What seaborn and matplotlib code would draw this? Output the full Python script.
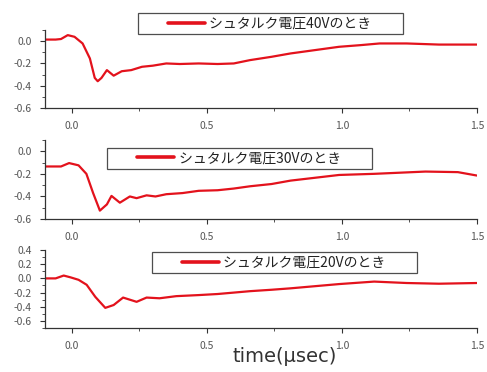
import numpy as np
import pandas as pd
import matplotlib
matplotlib.use("Agg")
import matplotlib.pyplot as plt
from matplotlib.lines import Line2D
from matplotlib.legend_handler import HandlerLine2D
from matplotlib.ticker import MultipleLocator
import seaborn as sns

# data
t40 = [-0.1, -0.06, -0.04, -0.015, 0.01, 0.04, 0.067, 0.085, 0.096, 0.11, 0.13,
       0.155, 0.185, 0.22, 0.26, 0.3, 0.35, 0.4, 0.47, 0.54, 0.6, 0.66, 0.74,
       0.81, 0.9, 0.99, 1.07, 1.14, 1.24, 1.36, 1.5]
v40 = [0.015, 0.015, 0.02, 0.055, 0.04, -0.02, -0.155, -0.33, -0.36, -0.33, -0.26,
       -0.31, -0.27, -0.26, -0.23, -0.22, -0.2, -0.205, -0.2, -0.205, -0.2, -0.17, -0.14,
       -0.11, -0.08, -0.05, -0.035, -0.02, -0.02, -0.03, -0.03]

t30 = [-0.1, -0.04, -0.01, 0.025, 0.054, 0.079, 0.104, 0.13, 0.147, 0.178, 0.215,
       0.24, 0.277, 0.31, 0.35, 0.41, 0.47, 0.54, 0.6, 0.66, 0.74, 0.81, 0.9, 0.99,
       1.12, 1.31, 1.43, 1.5]
v30 = [-0.135, -0.135, -0.105, -0.125, -0.2, -0.37, -0.525, -0.47, -0.395, -0.455, -0.4,
       -0.415, -0.39, -0.4, -0.38, -0.37, -0.35, -0.345, -0.33, -0.31, -0.29, -0.26, -0.235, -0.21,
       -0.2, -0.18, -0.185, -0.215]

t20 = [-0.1, -0.06, -0.03, -0.005, 0.025, 0.055, 0.087, 0.124, 0.155, 0.19, 0.24,
       0.277, 0.325, 0.387, 0.47, 0.54, 0.6, 0.66, 0.74, 0.81, 0.9, 0.99, 1.12, 1.24,
       1.36, 1.5]
v20 = [0.0, 0.0, 0.04, 0.015, -0.02, -0.09, -0.26, -0.415, -0.375, -0.27, -0.33,
       -0.27, -0.28, -0.25, -0.235, -0.22, -0.2, -0.18, -0.16, -0.14, -0.11, -0.08, -0.045,
       -0.065, -0.075, -0.065]

labels = ["シュタルク電圧40Vのとき", "シュタルク電圧30Vのとき", "シュタルク電圧20Vのとき"]

sns.set_style("ticks")
plt.rcParams['font.family'] = ['Noto Sans CJK JP', 'DejaVu Sans']

fig = plt.figure(figsize=(4.87, 3.72), dpi=100)

# axes boxes in figure fraction
boxes = [
    [0.092, 0.710, 0.887, 0.209],
    [0.092, 0.411, 0.887, 0.213],
    [0.092, 0.118, 0.887, 0.210],
]
ylims = [(-0.6, 0.1), (-0.6, 0.1), (-0.7, 0.4)]
yticks = [[0.0, -0.2, -0.4, -0.6], [0.0, -0.2, -0.4, -0.6],
          [0.4, 0.2, 0.0, -0.2, -0.4, -0.6]]
legpos = [(0.215, 1.22), (0.144, 0.90), (0.248, 0.975)]
series = [(t40, v40), (t30, v30), (t20, v20)]

red = "#e3121c"

for i in range(3):
    ax = fig.add_axes(boxes[i])
    df = pd.DataFrame({"t": series[i][0], "v": series[i][1]})
    sns.lineplot(data=df, x="t", y="v", ax=ax, color=red, lw=1.6, label=labels[i])
    ax.set_xlim(-0.1, 1.5)
    ax.set_ylim(*ylims[i])
    ax.set_xticks([0.0, 0.5, 1.0, 1.5])
    ax.set_xticklabels(["0.0", "0.5", "1.0", "1.5"])
    ax.xaxis.set_minor_locator(MultipleLocator(0.25))
    ax.set_yticks(yticks[i])
    ax.set_yticklabels([f"{y:.1f}" for y in yticks[i]])
    ax.yaxis.set_minor_locator(MultipleLocator(0.1))
    ax.tick_params(which="major", length=3.5, width=0.8, labelsize=7.5, colors="#333333",
                   labelcolor="#555555", pad=6)
    ax.tick_params(which="minor", length=2, width=0.6, colors="#333333")
    sns.despine(ax=ax)
    for s in ["left", "bottom"]:
        ax.spines[s].set_color("#333333")
        ax.spines[s].set_linewidth(0.9)
    ax.set_xlabel("")
    ax.set_ylabel("")
    leg = ax.legend(loc="upper left", bbox_to_anchor=legpos[i], fontsize=10,
                    frameon=True, fancybox=False, edgecolor="#222222",
                    borderpad=0.25, handlelength=4.6, handletextpad=0.3,
                    borderaxespad=0, handler_map={Line2D: HandlerLine2D(xpad=1.9)})
    leg.get_frame().set_linewidth(0.9)
    leg.get_texts()[0].set_text(labels[i] + "\u3000\u3000")
    leg.get_texts()[0].set_color("#222222")
    for h in leg.get_lines():
        h.set_linewidth(2.6)

ax.set_xlabel("time(μsec)", fontsize=14, color="#333333", labelpad=-3,
              x=0.556, family=['DejaVu Sans'])

fig.savefig("out.png", dpi=100)
